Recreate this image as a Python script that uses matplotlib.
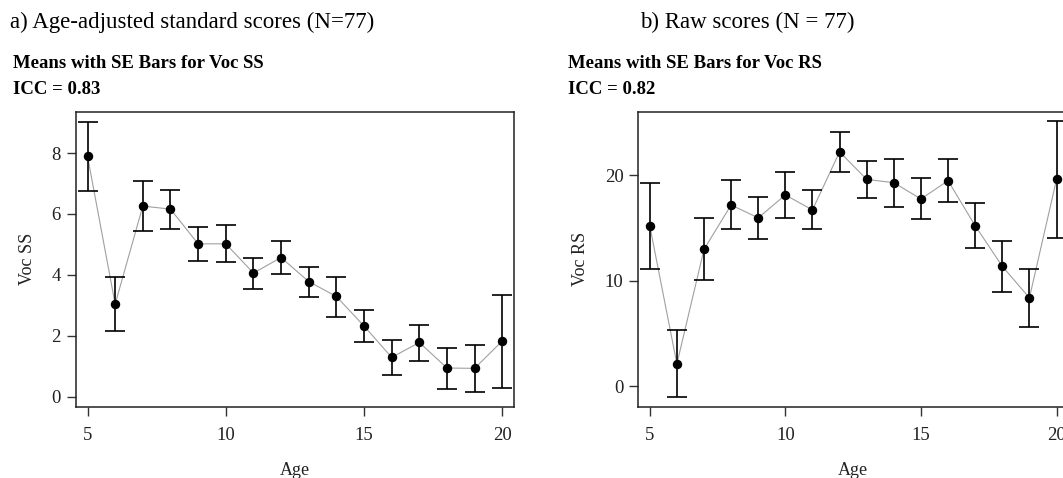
import matplotlib
matplotlib.use("Agg")
import matplotlib.pyplot as plt
import numpy as np

plt.rcParams['font.family'] = ['Liberation Serif', 'DejaVu Serif']

ages = [5, 6, 7, 8, 9, 10, 11, 12, 13, 14, 15, 16, 17, 18, 19, 20]

ss_mean = [7.90, 3.04, 6.26, 6.16, 5.02, 5.02, 4.06, 4.57, 3.78, 3.29, 2.32, 1.29, 1.78, 0.94, 0.93, 1.83]
ss_upper = [9.03, 3.94, 7.08, 6.79, 5.58, 5.65, 4.56, 5.11, 4.27, 3.94, 2.86, 1.86, 2.35, 1.61, 1.70, 3.35]
ss_lower = [6.76, 2.17, 5.44, 5.52, 4.47, 4.43, 3.55, 4.04, 3.28, 2.63, 1.81, 0.72, 1.18, 0.26, 0.16, 0.30]

rs_mean = [15.20, 2.13, 12.97, 17.17, 15.95, 18.12, 16.70, 22.20, 19.59, 19.28, 17.74, 19.47, 15.20, 11.37, 8.38, 19.59]
rs_upper = [19.28, 5.37, 15.92, 19.50, 17.96, 20.25, 18.56, 24.11, 21.38, 21.54, 19.69, 21.54, 17.33, 13.75, 11.11, 25.15]
rs_lower = [11.08, -1.04, 10.08, 14.88, 13.94, 15.92, 14.88, 20.25, 17.80, 16.95, 15.82, 17.43, 13.09, 8.95, 5.65, 14.03]

ss_yticks = [0, 2, 4, 6, 8]
rs_yticks = [0, 10, 20]
xticks = [5, 10, 15, 20]

W, H = 1063, 478
fig = plt.figure(figsize=(W / 100, H / 100), dpi=100)


def panel(rect, mean, lower, upper, yticks, ylim, ylabel):
    ax = fig.add_axes(rect)
    mean = np.array(mean)
    yerr = [mean - np.array(lower), np.array(upper) - mean]
    ax.plot(ages, mean, color='#a0a0a0', lw=0.8, zorder=2)
    ax.errorbar(ages, mean, yerr=yerr, fmt='o', color='black', ms=5.8,
                ecolor='black', elinewidth=1.2, capsize=7.2, capthick=1.2, zorder=3)
    ax.set_xlim(4.566, 20.434)
    ax.set_ylim(*ylim)
    ax.set_xticks(xticks)
    ax.set_yticks(yticks)
    ax.tick_params(axis='both', direction='out', length=6.5, width=1.0,
                   color='#333333', labelsize=13.5, labelcolor='#222222')
    ax.tick_params(axis='x', pad=8)
    ax.tick_params(axis='y', pad=4)
    for s in ax.spines.values():
        s.set_linewidth(1.1)
        s.set_color('#222222')
    ax.set_ylabel(ylabel, fontsize=13, labelpad=11, color='#222222')
    ax.set_xlabel('Age', fontsize=13, labelpad=13, color='#222222')
    return ax


bottom = 1 - 406.7 / H
top = 1 - 112.0 / H
panel([75.5 / W, bottom, (514.3 - 75.5) / W, top - bottom],
      ss_mean, ss_lower, ss_upper, ss_yticks, (-0.33, 9.35), 'Voc SS')
panel([638.0 / W, bottom, (1068.3 - 638.0) / W, top - bottom],
      rs_mean, rs_lower, rs_upper, rs_yticks, (-1.92, 25.97), 'Voc RS')

fig.text(10 / W, 1 - 22 / H, 'a) Age-adjusted standard scores (N=77)', fontsize=16.5,
         va='center', ha='left')
fig.text(640 / W, 1 - 22 / H, 'b) Raw scores (N = 77)', fontsize=16.5,
         va='center', ha='left')
fig.text(13 / W, 1 - 63 / H, 'Means with SE Bars for Voc SS', fontsize=13.5,
         fontweight='bold', va='center', ha='left')
fig.text(13 / W, 1 - 89 / H, 'ICC = 0.83', fontsize=13.5,
         fontweight='bold', va='center', ha='left')
fig.text(567.7 / W, 1 - 63 / H, 'Means with SE Bars for Voc RS', fontsize=13.5,
         fontweight='bold', va='center', ha='left')
fig.text(567.7 / W, 1 - 89 / H, 'ICC = 0.82', fontsize=13.5,
         fontweight='bold', va='center', ha='left')

fig.savefig('out.png', dpi=100)
